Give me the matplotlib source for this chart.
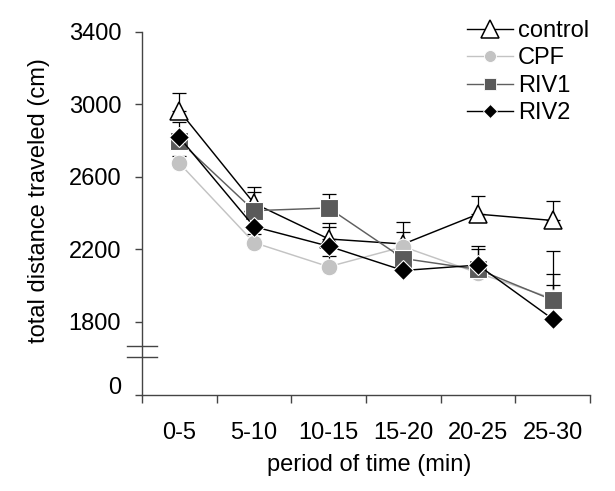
import numpy as np
import matplotlib
matplotlib.use('Agg')
import matplotlib.pyplot as plt
from matplotlib.lines import Line2D
import matplotlib.transforms as mtransforms

plt.rcParams['font.family'] = ['Liberation Sans', 'DejaVu Sans']
plt.rcParams['font.size'] = 17

periods = ['0-5', '5-10', '10-15', '15-20', '20-25', '25-30']

control = [2965, 2455, 2258, 2230, 2395, 2360]
cpf = [2676, 2238, 2105, 2215, 2070, 1930]
riv1 = [2800, 2414, 2429, 2150, 2090, 1921]
riv2 = [2819, 2326, 2218, 2084, 2114, 1816]

# upper error (SEM), one-sided
control_err = [100, 88, 87, 123, 102, 109]
cpf_err = [40, 50, 60, 83, 50, 133]
riv1_err = [40, 105, 77, 60, 113, 271]
riv2_err = [86, 60, 104, 60, 107, 189]

y_ticks = [1800, 2200, 2600, 3000, 3400]
y_bottom = 1397   # broken axis: bottom of plot stands for 0
zero_pos = 1452

fig = plt.figure(figsize=(6.15, 4.91), dpi=100)
ax = fig.add_axes([142 / 615, 1 - 395 / 491, 448 / 615, 363 / 491])

x = np.arange(len(periods)) + 0.5

series = [
    ('control', control, control_err, dict(color='black', marker='^', ms=13,
                                            mfc='white', mec='black', mew=1.1)),
    ('CPF', cpf, cpf_err, dict(color='#c3c3c3', marker='o', ms=12,
                               mfc='#c3c3c3', mec='white', mew=0.8)),
    ('RIV1', riv1, riv1_err, dict(color='#5f5f5f', marker='s', ms=12.5,
                                  mfc='#5a5a5a', mec='white', mew=0.8)),
    ('RIV2', riv2, riv2_err, dict(color='black', marker='D', ms=9.7,
                                  mfc='black', mec='white', mew=0.8)),
]

for i, (name, vals, err, st) in enumerate(series):
    ax.errorbar(x, vals, yerr=[np.zeros(len(err)), err], fmt='none',
                ecolor='black', elinewidth=0.9, capsize=4.7, capthick=0.9,
                zorder=1)

for i, (name, vals, err, st) in enumerate(series):
    ax.plot(x, vals, lw=1.05, zorder=2 + i, **st)

ax.set_xlim(0, 6)
ax.set_ylim(y_bottom, 3400)

ax.set_xticks(np.arange(0, 7))
ax.set_xticklabels([''] * 7)
ax.set_xticks(x, minor=True)
ax.set_xticklabels(periods, minor=True)
ax.tick_params(axis='x', which='major', direction='out', length=6, width=1,
               color='#444444')
ax.tick_params(axis='x', which='minor', length=0, pad=19.5)

ax.set_yticks([y_bottom, zero_pos] + y_ticks)
ax.set_yticklabels(['', '0'] + [str(v) for v in y_ticks])
ax.tick_params(axis='y', direction='out', length=5, width=1, color='#444444',
               pad=10)
ax.yaxis.get_major_ticks()[1].tick1line.set_visible(False)

for s in ['top', 'right']:
    ax.spines[s].set_visible(False)
for s in ['left', 'bottom']:
    ax.spines[s].set_color('#444444')
    ax.spines[s].set_linewidth(1.0)

# axis break marks
trans = mtransforms.blended_transform_factory(ax.transAxes, ax.transData)
for yb in [1669, 1609]:
    ax.plot([-0.0335, 0.0335], [yb, yb], transform=trans, color='#444444',
            lw=1.0, clip_on=False, zorder=10)

ax.set_xlabel('period of time (min)')
ax.xaxis.set_label_coords(0.508, -0.1625)
ax.set_ylabel('total distance traveled (cm)')
ax.yaxis.set_label_coords(-0.205, 0.537)

handles = [
    Line2D([], [], color='black', lw=1.0, marker='^', ms=13, mfc='white',
           mec='black', mew=1.1),
    Line2D([], [], color='#c3c3c3', lw=1.0, marker='o', ms=8.6,
           mfc='#c3c3c3', mec='white', mew=0.6),
    Line2D([], [], color='#5f5f5f', lw=1.0, marker='s', ms=8.6,
           mfc='#5a5a5a', mec='white', mew=0.6),
    Line2D([], [], color='black', lw=1.0, marker='D', ms=7.1,
           mfc='black', mec='white', mew=0.6),
]
fig.legend(handles, [s[0] for s in series], loc='upper left',
           bbox_to_anchor=(467 / 615, 1 - 20 / 491), frameon=False,
           borderpad=0, borderaxespad=0, handlelength=1.95,
           handletextpad=0.2, labelspacing=0.23)

fig.savefig('out.png', dpi=100)
